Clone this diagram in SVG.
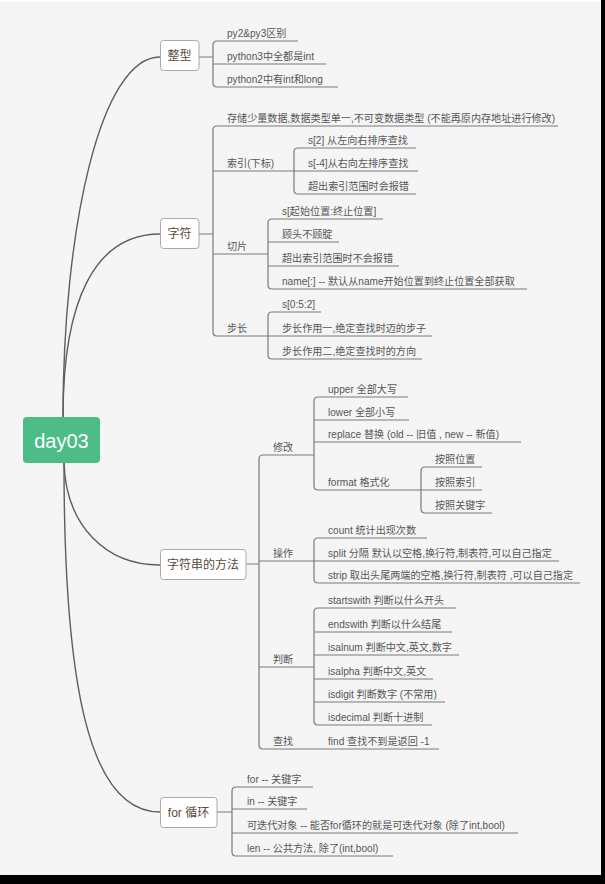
<svg xmlns="http://www.w3.org/2000/svg" width="605" height="884" viewBox="0 0 605 884">
<style>
.t{font-family:"Liberation Sans","Noto Sans CJK SC",sans-serif;font-size:10.1px;fill:#555}
.nt{font-family:"Liberation Sans","Noto Sans CJK SC",sans-serif;font-size:12px;fill:#5a4a3c;text-anchor:middle}
.box{fill:#fff;stroke:#aaa;stroke-width:1}
.ln{fill:none;stroke:#7a7a7a;stroke-width:1.2}
.cv{fill:none;stroke:#5e5e5e;stroke-width:1.4}
</style>
<rect x="0" y="0" width="605" height="884" fill="#000"/>
<rect x="0" y="0" width="601" height="875" fill="#f5f5f5"/>
<rect x="0" y="0" width="601" height="2" fill="#fdfdfd"/>
<g id="connectors">
<path class="cv" d="M63,417 C63,230 100,57 160,57"/>
<path class="cv" d="M63,417 C63,300 95,234 160,234"/>
<path class="cv" d="M64,463 C66,525 105,565 160,565"/>
<path class="cv" d="M64,463 C64,690 90,812 160,812"/>
<path class="ln" d="M199,57 H213 M298,41 H217 Q213,41 213,45 V83 Q213,87 217,87 H338 M213,64 H326"/>
<path class="ln" d="M199,234 H213 M558,126 H217 Q213,126 213,130 V332 Q213,336 217,336 H268 M213,171 H294 M213,254 H268"/>
<path class="ln" d="M416,148 H298 Q294,148 294,152 V190 Q294,194 298,194 H416 M294,171 H418"/>
<path class="ln" d="M383,219 H272 Q268,219 268,223 V285 Q268,289 272,289 H527 M268,242 H339 M268,266 H399"/>
<path class="ln" d="M321,312 H272 Q268,312 268,316 V355 Q268,359 272,359 H422 M268,336 H432"/>
<path class="ln" d="M246,564 H259 M314,455 H263 Q259,455 259,459 V745 Q259,749 263,749 H439 M259,561 H314 M259,667 H314"/>
<path class="ln" d="M408,397 H318 Q314,397 314,401 V486 Q314,490 318,490 H421 M314,420 H409 M314,442 H521"/>
<path class="ln" d="M482,467 H425 Q421,467 421,471 V509 Q421,513 425,513 H492 M421,490 H482"/>
<path class="ln" d="M427,538 H318 Q314,538 314,542 V579 Q314,583 318,583 H580 M314,561 H559"/>
<path class="ln" d="M456,608 H318 Q314,608 314,612 V721 Q314,725 318,725 H432 M314,632 H452 M314,655 H459 M314,679 H433 M314,702 H445"/>
<path class="ln" d="M217,812 H232 M313,787 H236 Q232,787 232,791 V852 Q232,856 236,856 H393 M232,809 H307 M232,833 H518"/>
</g>
<g id="root">
<rect x="23" y="417" width="77" height="46" rx="4" fill="#4dbd88"/>
<text x="61.5" y="448" font-family="Liberation Sans, sans-serif" font-size="20" fill="#fff" text-anchor="middle">day03</text>
</g>
<g id="n-int">
<rect class="box" x="160.5" y="40.5" width="38.5" height="30" rx="3"/>
<text class="nt" x="179.5" y="60">整型</text>
<text class="t" x="227" y="37">py2&amp;py3区别</text>
<text class="t" x="227" y="60">python3中全都是int</text>
<text class="t" x="227" y="83">python2中有int和long</text>
</g>
<g id="n-str">
<rect class="box" x="160.5" y="218.5" width="38.5" height="30" rx="3"/>
<text class="nt" x="179.5" y="238">字符</text>
<text class="t" x="227" y="122">存储少量数据,数据类型单一,不可变数据类型 (不能再原内存地址进行修改)</text>
<text class="t" x="227" y="167">索引(下标)</text>
<text class="t" x="308" y="144">s[2] 从左向右排序查找</text>
<text class="t" x="308" y="167">s[-4]从右向左排序查找</text>
<text class="t" x="308" y="190">超出索引范围时会报错</text>
<text class="t" x="227" y="250">切片</text>
<text class="t" x="282" y="215">s[起始位置:终止位置]</text>
<text class="t" x="282" y="238">顾头不顾腚</text>
<text class="t" x="282" y="262">超出索引范围时不会报错</text>
<text class="t" x="282" y="285">name[:] -- 默认从name开始位置到终止位置全部获取</text>
<text class="t" x="227" y="332">步长</text>
<text class="t" x="282" y="308">s[0:5:2]</text>
<text class="t" x="282" y="332">步长作用一,绝定查找时迈的步子</text>
<text class="t" x="282" y="355">步长作用二,绝定查找时的方向</text>
</g>
<g id="n-strmethods">
<rect class="box" x="160.5" y="549.5" width="85.5" height="30" rx="3"/>
<text class="nt" x="203" y="569">字符串的方法</text>
<text class="t" x="273" y="451">修改</text>
<text class="t" x="328" y="393">upper 全部大写</text>
<text class="t" x="328" y="416">lower 全部小写</text>
<text class="t" x="328" y="438">replace 替换 (old -- 旧值 , new -- 新值)</text>
<text class="t" x="328" y="486">format 格式化</text>
<text class="t" x="435" y="463">按照位置</text>
<text class="t" x="435" y="486">按照索引</text>
<text class="t" x="435" y="509">按照关键字</text>
<text class="t" x="273" y="557">操作</text>
<text class="t" x="328" y="534">count 统计出现次数</text>
<text class="t" x="328" y="557">split 分隔 默认以空格,换行符,制表符,可以自己指定</text>
<text class="t" x="328" y="579">strip 取出头尾两端的空格,换行符,制表符 ,可以自己指定</text>
<text class="t" x="273" y="663">判断</text>
<text class="t" x="328" y="604">startswith 判断以什么开头</text>
<text class="t" x="328" y="628">endswith 判断以什么结尾</text>
<text class="t" x="328" y="651">isalnum 判断中文,英文,数字</text>
<text class="t" x="328" y="675">isalpha 判断中文,英文</text>
<text class="t" x="328" y="698">isdigit 判断数字 (不常用)</text>
<text class="t" x="328" y="721">isdecimal 判断十进制</text>
<text class="t" x="273" y="745">查找</text>
<text class="t" x="328" y="745">find 查找不到是返回 -1</text>
</g>
<g id="n-for">
<rect class="box" x="160.5" y="797.5" width="56.5" height="30" rx="3"/>
<text class="nt" x="188.5" y="817">for 循环</text>
<text class="t" x="247" y="783">for -- 关键字</text>
<text class="t" x="247" y="805">in -- 关键字</text>
<text class="t" x="247" y="829">可迭代对象 -- 能否for循环的就是可迭代对象 (除了int,bool)</text>
<text class="t" x="247" y="852">len -- 公共方法, 除了(int,bool)</text>
</g>
</svg>
